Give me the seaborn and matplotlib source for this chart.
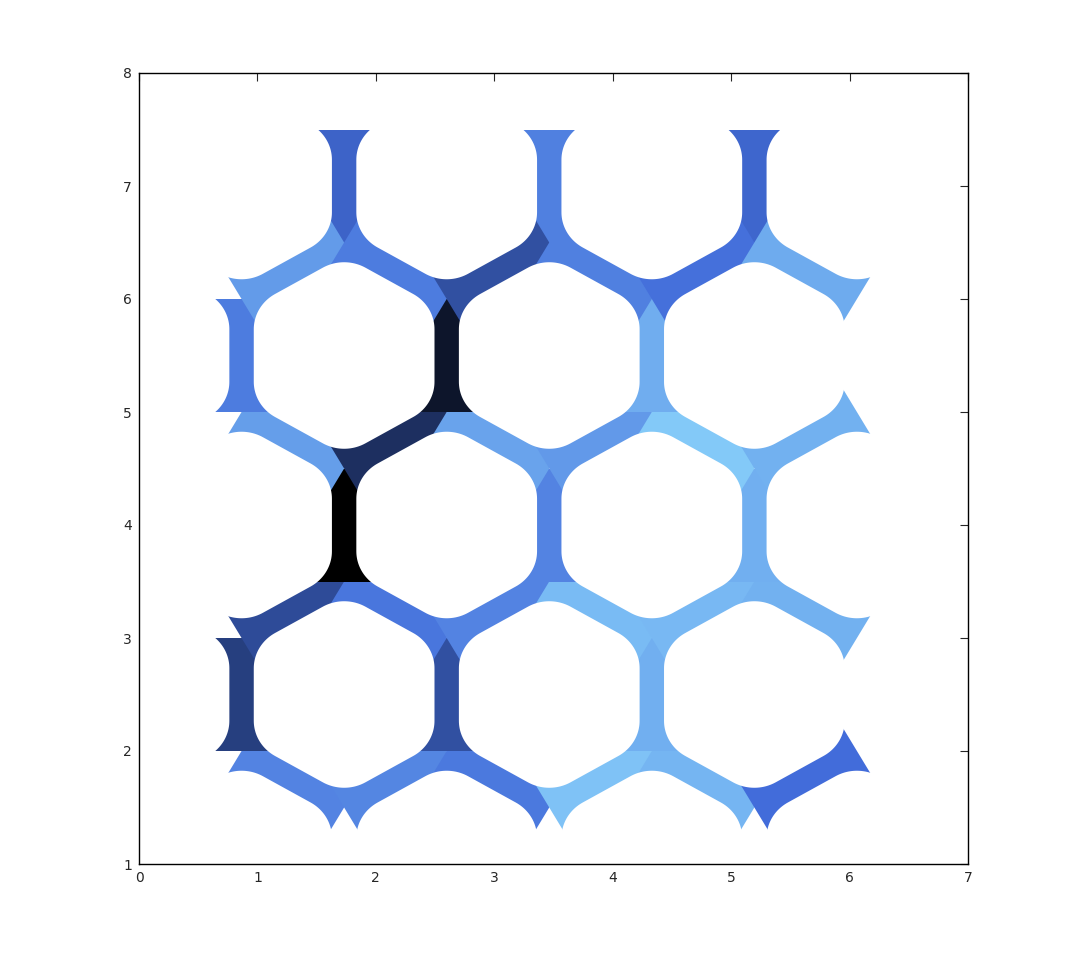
import numpy as np
import seaborn as sns
import matplotlib
matplotlib.use('Agg')
import matplotlib.pyplot as plt
from matplotlib.patches import Polygon

# honeycomb struts: (column0, y0, column1, y1), x = column * sqrt(3)/2
# listed in drawing order (later ones sit on top at the joints)
struts_s0 = [(1, 2, 2, 1.5), (2, 1.5, 3, 2), (3, 2, 4, 1.5), (4, 1.5, 5, 2), (5, 2, 6, 1.5), (6, 1.5, 7, 2)]
struts_v1 = [(1, 2, 1, 3), (3, 2, 3, 3), (5, 2, 5, 3)]
struts_s1 = [(1, 3, 2, 3.5), (2, 3.5, 3, 3), (3, 3, 4, 3.5), (4, 3.5, 5, 3), (5, 3, 6, 3.5), (6, 3.5, 7, 3)]
struts_v2 = [(2, 3.5, 2, 4.5), (4, 3.5, 4, 4.5), (6, 3.5, 6, 4.5)]
struts_s2 = [(1, 5, 2, 4.5), (2, 4.5, 3, 5), (3, 5, 4, 4.5), (4, 4.5, 5, 5), (5, 5, 6, 4.5), (6, 4.5, 7, 5)]
struts_v3 = [(1, 5, 1, 6), (3, 5, 3, 6), (5, 5, 5, 6)]
struts_v4 = [(2, 6.5, 2, 7.5), (4, 6.5, 4, 7.5), (6, 6.5, 6, 7.5)]
struts_s3 = [(1, 6, 2, 6.5), (2, 6.5, 3, 6), (3, 6, 4, 6.5), (4, 6.5, 5, 6), (5, 6, 6, 6.5), (6, 6.5, 7, 6)]

# strut values (0 = black, 0.5 = mid blue, 1 = light sky blue)
vals_s0 = [0.62, 0.63, 0.57, 0.94, 0.87, 0.50]
vals_v1 = [0.29, 0.37, 0.84]
vals_s1 = [0.35, 0.55, 0.62, 0.90, 0.89, 0.85]
vals_v2 = [0.00, 0.62, 0.84]
vals_s2 = [0.75, 0.22, 0.78, 0.73, 0.97, 0.85]
vals_v3 = [0.58, 0.10, 0.83]
vals_v4 = [0.46, 0.60, 0.47]
vals_s3 = [0.74, 0.58, 0.37, 0.60, 0.52, 0.82]

x_ticks = [0, 1, 2, 3, 4, 5, 6, 7]
y_ticks = [1, 2, 3, 4, 5, 6, 7, 8]

struts = struts_s0 + struts_v1 + struts_s1 + struts_v2 + struts_s2 + struts_v3 + struts_v4 + struts_s3
values = vals_s0 + vals_v1 + vals_s1 + vals_v2 + vals_s2 + vals_v3 + vals_v4 + vals_s3

S = np.sqrt(3) / 2
T = 0.103   # half thickness
R = 0.36    # fillet radius

sns.set_style('white')
plt.rcParams['font.family'] = ['DejaVu Sans']
cmap = sns.blend_palette(['black', '#426cda', 'lightskyblue'], as_cmap=True)

fig = plt.figure(figsize=(10.71, 9.73), dpi=100)
ax = fig.add_axes([139 / 1071, 109 / 973, 829 / 1071, 791 / 973])

holes = set()
for (c0, y0, c1, y1), v in zip(struts, values):
    a = np.array([c0 * S, y0])
    b = np.array([c1 * S, y1])
    d = (b - a) / np.linalg.norm(b - a)
    n = np.array([-d[1], d[0]])
    quad = [a + S * n, b + S * n, b - S * n, a - S * n]
    ax.add_patch(Polygon(quad, closed=True, facecolor=cmap(v), edgecolor='none', zorder=2))
    mid = (a + b) / 2
    for sgn in (1, -1):
        c = mid + sgn * S * n
        holes.add((round(c[0], 4), round(c[1], 4)))

# rounded hexagonal holes
r_in = S - T
r_core = (r_in - R) / np.cos(np.pi / 6)
hole_pts = []
for k in range(6):
    ang = np.radians(30 + 60 * k)
    vx, vy = r_core * np.cos(ang), r_core * np.sin(ang)
    arc = np.linspace(ang - np.pi / 6, ang + np.pi / 6, 24)
    hole_pts += list(zip(vx + R * np.cos(arc), vy + R * np.sin(arc)))
hole_pts = np.array(hole_pts)
for cx, cy in holes:
    ax.add_patch(Polygon(hole_pts + [cx, cy], closed=True, facecolor='white',
                         edgecolor='none', zorder=3))

ax.set_xlim(0, 7)
ax.set_ylim(1, 8)
ax.set_xticks(x_ticks)
ax.set_yticks(y_ticks)
ax.tick_params(direction='in', length=5.5, width=0.8, top=True, right=True,
               labelsize=10, labelcolor='#262626', pad=5)
for sp in ax.spines.values():
    sp.set_visible(True)
    sp.set_color('black')
    sp.set_linewidth(1.0)
    sp.set_zorder(5)

fig.savefig('out.png', dpi=100, facecolor='white')
